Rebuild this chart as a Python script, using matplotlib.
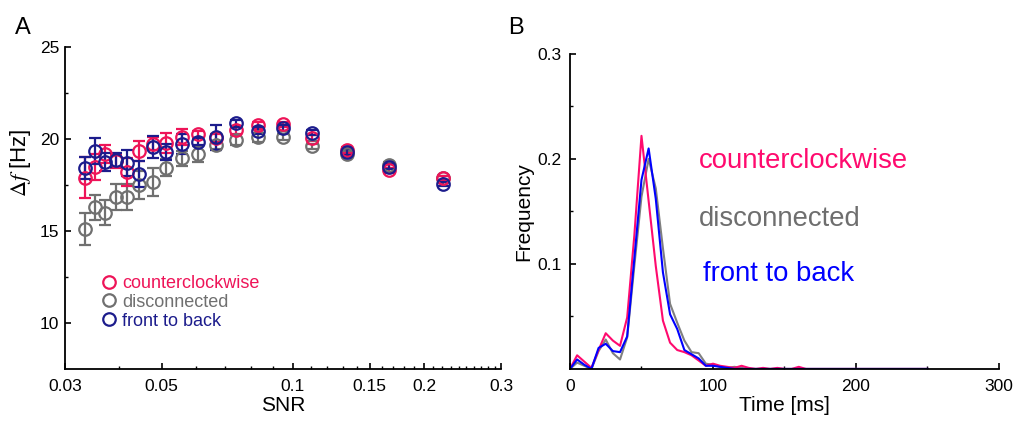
import numpy as np
import matplotlib
matplotlib.use('Agg')
import matplotlib.pyplot as plt
from matplotlib.lines import Line2D
from matplotlib.ticker import FixedLocator, NullFormatter

plt.rcParams['font.family'] = ['Liberation Sans', 'DejaVu Sans']
plt.rcParams['mathtext.fontset'] = 'stix'

# ---- panel A data ----
snr = [0.0333, 0.0352, 0.0371, 0.0393, 0.0416, 0.0443, 0.0477, 0.0511, 0.0557,
       0.0605, 0.0666, 0.0740, 0.0831, 0.0949, 0.1106, 0.133, 0.166, 0.221]
ccw_mean = [17.9, 18.5, 19.2, 18.8, 18.2, 19.35, 19.75, 19.8, 20.1,
            20.25, 20.05, 20.5, 20.75, 20.8, 20.05, 19.4, 18.3, 17.9]
ccw_err = [1.1, 0.7, 0.5, 0.35, 0.75, 0.55, 0.35, 0.55, 0.45,
           0.2, 0.2, 0.2, 0.2, 0.15, 0.15, 0.15, 0.15, 0.1]
dis_mean = [15.1, 16.3, 16.0, 16.85, 16.85, 17.5, 17.65, 18.45, 18.95,
            19.2, 19.65, 19.95, 20.1, 20.1, 19.6, 19.2, 18.6, 17.9]
dis_err = [0.88, 0.68, 0.66, 0.72, 0.72, 0.75, 0.77, 0.47, 0.41,
           0.43, 0.2, 0.25, 0.25, 0.15, 0.15, 0.15, 0.15, 0.1]
ftb_mean = [18.45, 19.35, 18.75, 18.85, 18.7, 18.1, 19.55, 19.3, 19.75,
            19.85, 20.1, 20.85, 20.45, 20.6, 20.35, 19.3, 18.5, 17.55]
ftb_err = [0.6, 0.7, 0.5, 0.38, 0.7, 0.7, 0.6, 0.43, 0.54,
           0.2, 0.68, 0.2, 0.2, 0.15, 0.15, 0.15, 0.15, 0.1]

# ---- panel B data (5 ms bins) ----
t_ms = np.arange(0, 255, 5)
ccw_freq = [0, 0.013, 0.007, 0.001, 0.018, 0.034, 0.027, 0.022, 0.049, 0.127,
            0.222, 0.16, 0.098, 0.046, 0.025, 0.018, 0.016, 0.013, 0.008, 0.003,
            0.005, 0.003, 0.002, 0.001, 0.003, 0.001, 0, 0.001, 0, 0.001,
            0, 0, 0.002, 0, 0, 0, 0, 0, 0, 0,
            0, 0, 0, 0, 0, 0, 0, 0, 0, 0, 0]
dis_freq = [0, 0.006, 0.003, 0, 0.017, 0.028, 0.015, 0.009, 0.030, 0.098,
            0.164, 0.200, 0.172, 0.115, 0.062, 0.044, 0.027, 0.016, 0.015, 0.005,
            0.004, 0.002, 0.001, 0.002, 0.001, 0, 0, 0, 0, 0,
            0, 0, 0, 0, 0, 0, 0, 0, 0, 0,
            0, 0, 0, 0, 0, 0, 0, 0, 0, 0, 0]
ftb_freq = [0, 0.009, 0.004, 0, 0.020, 0.024, 0.017, 0.016, 0.031, 0.105,
            0.180, 0.210, 0.162, 0.092, 0.052, 0.038, 0.018, 0.014, 0.010, 0.003,
            0.003, 0.002, 0.001, 0, 0, 0, 0, 0, 0, 0,
            0, 0, 0, 0, 0, 0, 0, 0, 0, 0,
            0, 0, 0, 0, 0, 0, 0, 0, 0, 0, 0]

red_a, gray_a, blue_a = '#ee1458', '#707070', '#1c1c8c'
red_b, gray_b, blue_b = '#ff0a6e', '#808080', '#0000ff'

fig = plt.figure(figsize=(10.22, 4.28), dpi=100)
axA = fig.add_axes([0.0636, 0.138, 0.4266, 0.752])
axB = fig.add_axes([0.5577, 0.138, 0.4198, 0.736])

# panel A
for m, e, c in [(dis_mean, dis_err, gray_a), (ccw_mean, ccw_err, red_a), (ftb_mean, ftb_err, blue_a)]:
    axA.errorbar(snr, m, yerr=e, fmt='o', mfc='none', mec=c, ecolor=c, ms=9, mew=1.6,
                 elinewidth=1.6, capsize=4, capthick=1.6)
axA.set_xscale('log')
axA.set_xlim(0.03, 0.3)
axA.set_ylim(7.5, 25)
axA.xaxis.set_major_locator(FixedLocator([0.03, 0.05, 0.1, 0.15, 0.2, 0.3]))
axA.set_xticklabels(['0.03', '0.05', '0.1', '0.15', '0.2', '0.3'])
minors = [0.04, 0.06, 0.07, 0.08, 0.09] + [0.11, 0.12, 0.13, 0.14, 0.16, 0.17, 0.18, 0.19] + \
    [0.21, 0.22, 0.23, 0.24, 0.25, 0.26, 0.27, 0.28, 0.29]
axA.xaxis.set_minor_locator(FixedLocator(minors))
axA.xaxis.set_minor_formatter(NullFormatter())
axA.set_yticks([10, 15, 20, 25])
axA.set_yticks([12.5, 17.5, 22.5], minor=True)
axA.set_xlabel('SNR', fontsize=15, labelpad=2)
axA.set_ylabel(r'$\mathit{\Delta f}$ [Hz]', fontsize=16)
axA.yaxis.set_label_coords(-0.074, 0.64)

handles = [Line2D([], [], ls='none', marker='o', mfc='none', mec=c, ms=9, mew=1.6)
           for c in (red_a, gray_a, blue_a)]
axA.legend(handles, ['counterclockwise', 'disconnected', 'front to back'],
           loc='lower left', bbox_to_anchor=(0.06, 0.1), frameon=False, fontsize=13,
           labelcolor=[red_a, gray_a, blue_a], handletextpad=0.1, labelspacing=0.1,
           handlelength=1.2, borderaxespad=0)

# panel B
axB.plot(t_ms, dis_freq, color=gray_b, lw=1.5)
axB.plot(t_ms, ccw_freq, color=red_b, lw=1.5)
axB.plot(t_ms, ftb_freq, color=blue_b, lw=1.5)
axB.set_xlim(0, 300)
axB.set_ylim(0, 0.3)
axB.set_xticks([0, 100, 200, 300])
axB.set_xticks([50, 150, 250], minor=True)
axB.set_yticks([0.1, 0.2, 0.3])
axB.set_yticks([0.05, 0.15, 0.25], minor=True)
axB.set_xlabel('Time [ms]', fontsize=15, labelpad=2)
axB.set_ylabel('Frequency', fontsize=15)
axB.yaxis.set_label_coords(-0.086, 0.5)
axB.text(0.3, 0.66, 'counterclockwise', color=red_b, fontsize=19.8, transform=axB.transAxes, va='center')
axB.text(0.3, 0.475, 'disconnected', color='#6e6e6e', fontsize=19.8, transform=axB.transAxes, va='center')
axB.text(0.31, 0.3, 'front to back', color=blue_b, fontsize=19.8, transform=axB.transAxes, va='center')

for ax, pad in [(axA, 4), (axB, 6)]:
    ax.spines['top'].set_visible(False)
    ax.spines['right'].set_visible(False)
    ax.spines['left'].set_linewidth(1.3)
    ax.spines['bottom'].set_linewidth(1.3)
    ax.tick_params(which='major', direction='in', length=4, width=1.2, labelsize=12.5)
    ax.tick_params(which='minor', direction='in', length=2.5, width=1.0)
    ax.tick_params(axis='y', pad=pad)
    ax.tick_params(axis='x', pad=7)

fig.text(0.015, 0.935, 'A', fontsize=17, va='center')
fig.text(0.497, 0.935, 'B', fontsize=17, va='center')

fig.savefig('out.png', dpi=100)
